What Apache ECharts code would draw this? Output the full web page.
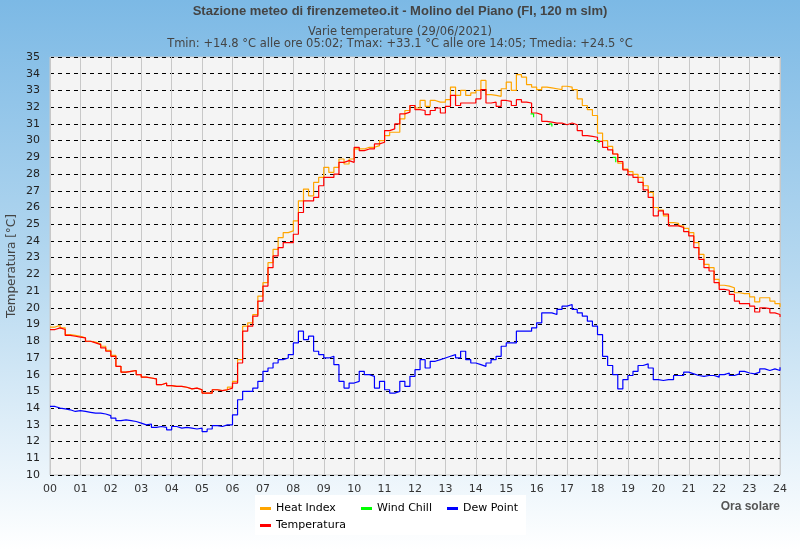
<!DOCTYPE html>
<html>
<head>
<meta charset="utf-8">
<script src="https://cdn.jsdelivr.net/npm/echarts@6/dist/echarts.min.js"></script>
<style>
  html, body { margin: 0; padding: 0; }
  #chart { width: 800px; height: 550px; }
</style>
</head>
<body>
<div id="chart"></div>
<script>
// dati ogni 10 minuti, 00:00 -> 24:00
const hourLabels = ['00','01','02','03','04','05','06','07','08','09','10','11','12','13','14','15','16','17','18','19','20','21','22','23','24'];

const temperatura = [
  18.7, 18.8, 18.7, 18.35, 18.3, 18.25,
  18.2, 18.0, 17.9, 17.8, 17.6, 17.4,
  17.1, 16.5, 16.15, 16.2, 16.25, 16.0,
  15.85, 15.8, 15.75, 15.4, 15.5, 15.35,
  15.3, 15.3, 15.25, 15.15, 15.2, 15.1,
  14.9, 14.9, 15.1, 15.05, 15.1, 15.2,
  15.5, 16.7, 18.6, 18.9, 19.5, 20.4,
  21.3, 22.4, 23.1, 23.6, 23.9, 23.9,
  24.4, 25.7, 26.4, 26.4, 26.6, 27.3,
  27.8, 27.8, 28.0, 28.7, 28.8, 28.7,
  29.6, 29.4, 29.5, 29.5, 29.8, 29.9,
  30.6, 30.7, 31.0, 31.6, 31.7, 32.1,
  31.85, 31.8, 31.55, 31.8, 31.95, 31.65,
  32.05, 32.7, 32.1, 32.25, 32.25, 32.25,
  32.5, 33.05, 32.25, 32.3, 32.05, 32.4,
  32.35, 32.1, 32.45, 32.3, 32.25, 31.65,
  31.55, 31.15, 31.1, 31.05, 31.05, 30.95,
  31.05, 30.95, 30.6, 30.3, 30.25, 30.2,
  29.95, 29.6, 29.45, 29.2, 28.75, 28.25,
  27.95, 27.8, 27.5, 27.05, 26.6, 25.5,
  25.8, 25.6, 24.9, 24.9, 24.8, 24.55,
  24.3, 23.6, 22.9, 22.4, 22.2, 21.5,
  21.1, 21.05, 20.8, 20.4, 20.25, 20.25,
  20.1, 19.75, 20.0, 19.95, 19.7, 19.6,
  19.45
];

const heatIndex = [
  18.85, 18.95, 18.8, 18.4, 18.35, 18.3,
  18.2, 18.0, 17.95, 17.85, 17.7, 17.45,
  17.15, 16.5, 16.15, 16.2, 16.25, 16.0,
  15.85, 15.8, 15.75, 15.4, 15.5, 15.35,
  15.3, 15.3, 15.25, 15.15, 15.2, 15.1,
  14.9, 14.9, 15.1, 15.05, 15.1, 15.25,
  15.6, 16.9, 18.9, 19.1, 19.6, 20.7,
  21.5, 22.7, 23.5, 24.2, 24.5, 24.6,
  25.2, 26.4, 27.1, 26.7, 27.5, 27.8,
  28.4, 28.1, 28.4, 28.9, 28.6, 28.9,
  29.5, 29.5, 29.6, 29.6, 29.7, 30.0,
  30.3, 30.5, 30.5, 31.3, 31.8, 32.1,
  31.95, 32.4, 32.05, 32.4, 32.3, 32.3,
  32.45, 33.2, 32.7, 33.0, 32.7, 32.85,
  33.0, 33.6, 32.75, 32.7, 32.65, 33.1,
  33.5, 33.0, 33.95, 33.8, 33.35, 33.2,
  33.05, 33.2, 33.15, 33.1, 33.05, 33.25,
  33.2, 33.05, 32.5, 32.1, 31.85, 31.5,
  30.45, 30.0, 29.65, 29.2, 28.65, 28.3,
  28.15, 27.98, 27.8, 27.3, 26.9, 26.0,
  25.85, 25.5, 25.1, 25.05, 24.9, 24.75,
  24.5, 23.9, 23.2, 22.6, 22.4, 21.7,
  21.35, 21.3, 21.2, 20.9, 20.85, 20.85,
  20.65, 20.35, 20.6, 20.6, 20.4, 20.25,
  20.05
];

const dewPoint = [
  14.1, 14.0, 13.95, 13.9, 13.8, 13.85,
  13.8, 13.75, 13.7, 13.7, 13.65, 13.55,
  13.4, 13.25, 13.3, 13.25, 13.2, 13.1,
  13.0, 13.05, 12.85, 12.9, 12.85, 12.7,
  12.9, 12.8, 12.85, 12.8, 12.75, 12.8,
  12.6, 12.75, 12.95, 12.9, 13.0, 13.0,
  13.6, 14.5, 15.0, 15.0, 15.2, 15.6,
  16.2, 16.4, 16.7, 16.9, 17.0, 17.2,
  17.9, 18.6, 18.1, 18.3, 17.4, 17.2,
  17.0, 17.1, 16.6, 15.6, 15.2, 15.5,
  15.6, 16.2, 16.0, 15.9, 15.2, 15.6,
  15.1, 14.9, 15.0, 15.6, 15.3, 15.9,
  16.3, 16.9, 16.4, 16.8, 16.9, 17.0,
  17.1, 17.2, 17.0, 17.4, 16.9, 16.7,
  16.6, 16.5, 16.7, 16.9, 17.1, 17.7,
  17.9, 17.9, 18.6, 18.6, 18.6, 18.8,
  19.1, 19.7, 19.7, 19.6, 19.9, 20.1,
  20.2, 19.9, 19.7, 19.5, 19.2, 18.9,
  18.4, 17.1, 16.55, 16.0, 15.15, 15.7,
  15.95, 16.2, 16.55, 16.65, 16.4, 15.7,
  15.65, 15.7, 15.7, 15.95, 15.95, 16.15,
  16.05, 15.95, 15.9, 15.95, 15.95, 15.85,
  16.0, 16.1, 15.95, 16.05, 16.2, 16.1,
  16.05, 16.15, 16.35, 16.25, 16.35, 16.25,
  16.45
];

// wind chill: solo brevi tratti sotto la temperatura
const windChillHours  = [15.8, 15.9, null, 16.4, 16.5, null, 17.95, 18.05, null, 18.5, 18.6];
const windChillValues = [31.6, 31.4, null, 31.0, 30.85, null, 30.0, 29.85, null, 29.0, 28.7];

const toPairs = arr => arr.map((v, i) => [i / 6, v]);
const windChill = windChillHours.map((h, i) => h === null ? [null, null] : [h, windChillValues[i]]);

const chart = echarts.init(document.getElementById('chart'));

const legendText = { color: '#000', fontSize: 11, fontFamily: 'DejaVu Sans' };
function legendAt(name, left, top) {
  return {
    data: [name], left: left, top: top, orient: 'horizontal',
    itemWidth: 11, itemHeight: 3, itemGap: 0, padding: 0,
    icon: 'rect', textStyle: legendText
  };
}

const option = {
  animation: false,
  backgroundColor: {
    type: 'linear', x: 0, y: 0, x2: 0, y2: 1,
    colorStops: [
      { offset: 0, color: '#7cb9e5' },
      { offset: 0.5, color: '#b7d9f0' },
      { offset: 1, color: '#ffffff' }
    ]
  },
  title: {
    left: 'center',
    top: 0,
    text: 'Stazione meteo di firenzemeteo.it - Molino del Piano (FI, 120 m slm)',
    textStyle: { fontFamily: 'Liberation Sans', fontSize: 13, fontWeight: 'bold', color: '#444' },
    subtext: 'Varie temperature (29/06/2021)\nTmin: +14.8 °C alle ore 05:02; Tmax: +33.1 °C alle ore 14:05; Tmedia: +24.5 °C',
    subtextStyle: { fontFamily: 'DejaVu Sans', fontSize: 11.5, color: '#444', lineHeight: 12 },
    itemGap: 8
  },
  legend: [
    legendAt('Heat Index', 260, 503),
    legendAt('Wind Chill', 361, 503),
    legendAt('Dew Point', 447, 503),
    legendAt('Temperatura', 260, 520)
  ],
  graphic: [
    { type: 'rect', z: 0, shape: { x: 255, y: 495, width: 271, height: 40 }, style: { fill: '#ffffff' } },
    { type: 'text', z: 5, style: { x: 780, y: 507, text: 'Ora solare', align: 'right', verticalAlign: 'middle',
        fill: '#555', font: 'bold 12px "Liberation Sans"' } }
  ],
  grid: {
    left: 50, right: 20, top: 57, bottom: 75,
    outerBoundsMode: 'none',
    show: true, backgroundColor: '#f4f4f4', borderColor: '#c8c8c8', borderWidth: 1
  },
  xAxis: {
    type: 'value', min: 0, max: 24, interval: 1,
    axisLine: { show: false },
    axisTick: { show: false },
    axisLabel: {
      color: '#333', fontSize: 11, fontFamily: 'DejaVu Sans', margin: 9,
      formatter: v => hourLabels[v]
    },
    splitLine: { lineStyle: { color: '#c8c8c8', width: 1 } }
  },
  yAxis: {
    type: 'value', min: 10, max: 35, interval: 1,
    name: 'Temperatura [°C]',
    nameLocation: 'middle',
    nameGap: 32,
    nameMoveOverlap: false,
    nameTextStyle: { color: '#444', fontSize: 12, fontFamily: 'DejaVu Sans' },
    axisLine: { show: false },
    axisTick: { show: false },
    axisLabel: { color: '#222', fontSize: 11, fontFamily: 'DejaVu Sans', margin: 10 },
    splitLine: { lineStyle: { color: '#000', width: 1, type: [4, 4] } }
  },
  series: [
    {
      name: 'Heat Index', type: 'line', step: 'end', showSymbol: false,
      data: toPairs(heatIndex),
      itemStyle: { color: '#ffa500' }, lineStyle: { color: '#ffa500', width: 1.2 }
    },
    {
      name: 'Dew Point', type: 'line', step: 'end', showSymbol: false,
      data: toPairs(dewPoint),
      itemStyle: { color: '#0000ff' }, lineStyle: { color: '#0000ff', width: 1.2 }
    },
    {
      name: 'Temperatura', type: 'line', step: 'end', showSymbol: false,
      data: toPairs(temperatura),
      itemStyle: { color: '#ff0000' }, lineStyle: { color: '#ff0000', width: 1.2 }
    },
    {
      name: 'Wind Chill', type: 'line', step: 'end', showSymbol: false, connectNulls: false,
      data: windChill,
      itemStyle: { color: '#00ff00' }, lineStyle: { color: '#00ff00', width: 1.2 }
    }
  ]
};

chart.setOption(option);

window.addEventListener('resize', function () {
  chart.resize();
});
</script>
</body>
</html>
